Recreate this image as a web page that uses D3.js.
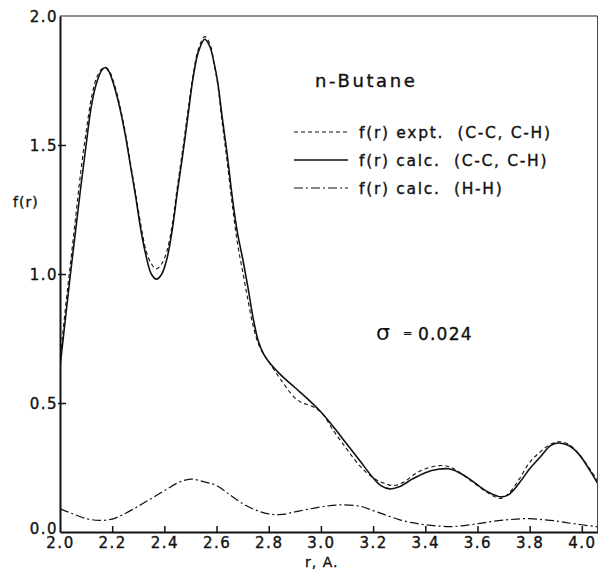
<!DOCTYPE html>
<html>
<head>
<meta charset="utf-8">
<script src="https://cdn.jsdelivr.net/npm/d3@7/dist/d3.min.js"></script>
<style>
  html, body { margin: 0; padding: 0; background: #fff; }
  svg { display: block; }
  text { font-family: "DejaVu Sans", sans-serif; fill: #111; stroke: #111; stroke-width: 0.35px; }
</style>
</head>
<body>
<svg id="chart" width="599" height="571"></svg>
<script>
// ---- data ----
const exptR = [2.00,2.02,2.04,2.06,2.08,2.10,2.12,2.14,2.16,2.175,2.19,2.21,2.23,2.25,2.27,2.29,2.31,2.33,2.35,2.37,2.39,2.41,2.43,2.45,2.47,2.49,2.51,2.53,2.555,2.575,2.59,2.605,2.62,2.64,2.66,2.68,2.70,2.72,2.74,2.76,2.78,2.80,2.85,2.90,2.93,2.96,3.00,3.05,3.10,3.15,3.20,3.24,3.28,3.32,3.36,3.40,3.46,3.50,3.54,3.58,3.62,3.66,3.69,3.72,3.76,3.80,3.84,3.88,3.91,3.95,3.99,4.03,4.06];
const exptF = [0.66,0.86,1.04,1.22,1.40,1.55,1.68,1.76,1.795,1.80,1.785,1.73,1.65,1.55,1.43,1.31,1.19,1.09,1.04,1.02,1.04,1.09,1.19,1.34,1.48,1.63,1.77,1.87,1.92,1.89,1.82,1.73,1.60,1.44,1.27,1.12,1.01,0.90,0.80,0.73,0.69,0.66,0.585,0.52,0.50,0.49,0.465,0.39,0.32,0.255,0.21,0.19,0.18,0.195,0.225,0.245,0.258,0.25,0.225,0.195,0.165,0.14,0.13,0.15,0.205,0.27,0.31,0.34,0.35,0.34,0.30,0.245,0.20];

const calcR = [2.00,2.02,2.04,2.06,2.08,2.10,2.12,2.14,2.16,2.175,2.19,2.21,2.23,2.25,2.27,2.29,2.31,2.33,2.35,2.37,2.39,2.41,2.43,2.45,2.47,2.49,2.51,2.53,2.555,2.575,2.59,2.605,2.62,2.64,2.66,2.68,2.70,2.72,2.74,2.76,2.78,2.80,2.85,2.90,2.95,3.00,3.05,3.10,3.15,3.20,3.23,3.265,3.30,3.35,3.40,3.45,3.49,3.53,3.57,3.61,3.65,3.69,3.72,3.76,3.80,3.84,3.88,3.91,3.95,3.99,4.03,4.06];
const calcF = [0.64,0.82,1.00,1.17,1.34,1.50,1.65,1.74,1.79,1.80,1.78,1.72,1.64,1.54,1.42,1.30,1.17,1.07,1.00,0.98,1.00,1.06,1.17,1.32,1.46,1.61,1.76,1.86,1.91,1.88,1.82,1.74,1.62,1.47,1.30,1.16,1.06,0.95,0.83,0.74,0.69,0.66,0.605,0.56,0.515,0.465,0.405,0.34,0.275,0.21,0.18,0.167,0.175,0.205,0.23,0.243,0.245,0.23,0.205,0.175,0.15,0.136,0.145,0.19,0.245,0.29,0.335,0.345,0.335,0.30,0.24,0.19];

const hhR = [2.00,2.05,2.10,2.15,2.20,2.25,2.30,2.35,2.40,2.45,2.50,2.55,2.60,2.65,2.70,2.75,2.80,2.85,2.90,2.95,3.00,3.07,3.15,3.20,3.25,3.30,3.35,3.40,3.45,3.50,3.55,3.60,3.65,3.70,3.75,3.80,3.85,3.90,3.95,4.00,4.06];
const hhF = [0.09,0.07,0.052,0.045,0.05,0.072,0.10,0.13,0.16,0.19,0.205,0.195,0.18,0.145,0.11,0.085,0.07,0.068,0.078,0.088,0.097,0.105,0.10,0.083,0.065,0.048,0.036,0.028,0.023,0.021,0.025,0.032,0.04,0.046,0.05,0.052,0.048,0.043,0.035,0.028,0.02];

const xTicks = [2.0,2.2,2.4,2.6,2.8,3.0,3.2,3.4,3.6,3.8,4.0];
const xTickLabels = ["2.0","2.2","2.4","2.6","2.8","3.0","3.2","3.4","3.6","3.8","4.0"];
const yTicks = [0.0,0.5,1.0,1.5,2.0];
const yTickLabels = ["0.0","0.5","1.0","1.5","2.0"];

const legendLabels = ["f(r) expt.  (C-C, C-H)", "f(r) calc.  (C-C, C-H)", "f(r) calc.  (H-H)"];
const titleText = "n-Butane";
const sigmaText = "0.024";

// ---- drawing ----
const svg = d3.select("#chart");
const x = d3.scaleLinear().domain([2.0, 4.06]).range([60, 597.5]);
const y = d3.scaleLinear().domain([0, 2.0]).range([532, 16]);

const zip = (r, f) => r.map((v, i) => [v, f[i]]);
const line = d3.line().x(d => x(d[0])).y(d => y(d[1])).curve(d3.curveCatmullRom.alpha(0.5));

svg.append("defs").append("clipPath").attr("id", "clip")
  .append("rect").attr("x", x(2.0)).attr("y", y(2.0) - 5).attr("width", x(4.06) - x(2.0)).attr("height", y(0) - y(2.0) + 5);

const g = svg.append("g").attr("clip-path", "url(#clip)");
g.append("path").attr("d", line(zip(hhR, hhF)))
  .attr("fill", "none").attr("stroke", "#111").attr("stroke-width", 1.2)
  .attr("stroke-dasharray", "9,3,2,3");
g.append("path").attr("d", line(zip(exptR, exptF)))
  .attr("fill", "none").attr("stroke", "#111").attr("stroke-width", 1.1)
  .attr("stroke-dasharray", "4,3");
g.append("path").attr("d", line(zip(calcR, calcF)))
  .attr("fill", "none").attr("stroke", "#111").attr("stroke-width", 1.6);

// frame
svg.append("line").attr("x1", x(2.0)).attr("x2", x(4.06)).attr("y1", y(2.0)).attr("y2", y(2.0))
  .attr("stroke", "#222").attr("stroke-width", 1.2);
svg.append("line").attr("x1", x(4.06)).attr("x2", x(4.06)).attr("y1", y(2.0)).attr("y2", y(0))
  .attr("stroke", "#444").attr("stroke-width", 1);

// axes
const xAxis = d3.axisBottom(x).tickValues(xTicks).tickSizeInner(-6).tickSizeOuter(0)
  .tickFormat((d, i) => xTickLabels[i]);
const gx = svg.append("g").attr("transform", `translate(0,${y(0)})`).call(xAxis);
gx.select(".domain").attr("stroke", "#111").attr("stroke-width", 2);
gx.selectAll(".tick line").attr("stroke", "#111").attr("stroke-width", 1.5);
gx.selectAll(".tick").filter(d => d === 2.0).select("line").remove();
gx.selectAll(".tick text").attr("dy", null).attr("y", 16)
  .style("font-size", "15px").style("letter-spacing", "1.5px").style("font-family", "DejaVu Sans")
  .attr("fill", "#111");

const yAxis = d3.axisLeft(y).tickValues(yTicks).tickSizeInner(-6).tickSizeOuter(0)
  .tickFormat((d, i) => yTickLabels[i]);
const gy = svg.append("g").attr("transform", `translate(${x(2.0)},0)`).call(yAxis);
gy.select(".domain").attr("stroke", "#111").attr("stroke-width", 2);
gy.selectAll(".tick line").attr("stroke", "#111").attr("stroke-width", 1.5).attr("x1", -2);
gy.selectAll(".tick").filter(d => d === 0 || d === 2.0).select("line").remove();
gy.selectAll(".tick text").attr("x", -2).attr("dy", "0.36em")
  .style("font-size", "15px").style("letter-spacing", "1.5px").style("font-family", "DejaVu Sans")
  .attr("fill", "#111");
gy.selectAll(".tick").filter(d => d === 0).select("text").attr("dy", "0.1em");

// axis titles
svg.append("text").attr("x", 13).attr("y", 207).style("font-size", "14px").style("letter-spacing", "1px").text("f(r)");
svg.append("text").attr("x", 305).attr("y", 567).style("font-size", "14px").style("letter-spacing", "1px").text("r, A.");

// title
svg.append("text").attr("x", 315).attr("y", 87).style("font-size", "18px").style("letter-spacing", "2.6px").text(titleText);

// legend
const dashes = ["4,3", null, "9,3,2,3"];
const widths = [1.1, 1.6, 1.2];
legendLabels.forEach((lab, i) => {
  const yy = 132 + i * 28;
  const l = svg.append("line").attr("x1", 294).attr("x2", 348).attr("y1", yy).attr("y2", yy)
    .attr("stroke", "#111").attr("stroke-width", widths[i]);
  if (dashes[i]) l.attr("stroke-dasharray", dashes[i]);
  svg.append("text").attr("x", 359).attr("y", yy + 6).style("font-size", "15.5px")
    .style("letter-spacing", "1.7px").attr("xml:space", "preserve").style("white-space", "pre").text(lab);
});

// sigma annotation
svg.append("text").attr("x", 376).attr("y", 340).style("font-size", "22px").style("stroke-width", "0px")
  .style("font-weight", "normal").text("σ");
svg.append("text").attr("x", 403).attr("y", 337).style("font-size", "11px").text("=");
svg.append("text").attr("x", 418).attr("y", 340).style("font-size", "17px").style("letter-spacing", "1.2px").text(sigmaText);
</script>
</body>
</html>
